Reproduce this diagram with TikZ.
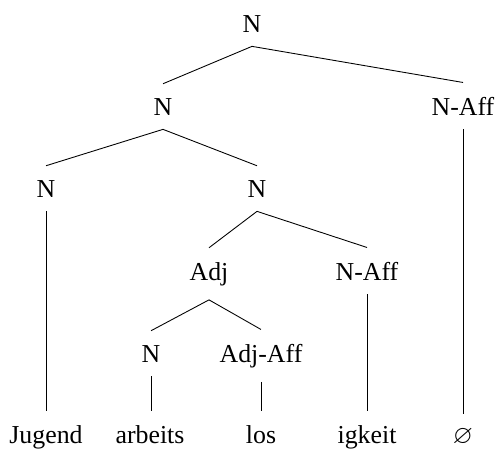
\documentclass[tikz,border=0pt]{standalone}
\usepackage{amssymb}
\usepackage{fontspec}
\setmainfont{Liberation Serif}
\tikzset{
	cat/.style={anchor=base,inner xsep=2pt,inner ysep=0.28cm,font=\fontsize{14.7}{17}\selectfont},
	branch/.style={thin,line width=0.5pt}
}
\begin{document}
\begin{tikzpicture}[x=0.02cm,y=-0.02cm]
	\useasboundingbox (0,0) rectangle (499,451); % Fixes the picture size...
		\node[cat] (Root)    at (252,32)  {N};
		\node[cat] (NLeft)   at (163,115) {N};
		\node[cat] (NAffTop) at (463,115) {N-Aff};
		\node[cat] (NJug)    at (46,197)  {N};
		\node[cat] (NMid)    at (257,197) {N};
		\node[cat] (Adj)     at (209,280) {Adj};
		\node[cat] (NAffMid) at (367,280) {N-Aff};
		\node[cat] (NArb)    at (151,362) {N};
		\node[cat] (AdjAff)  at (261,362) {Adj-Aff};
		% leaves
		\node[cat] (Jugend)  at (46,443)  {Jugend};
		\node[cat] (Arbeits) at (150,443) {arbeits};
		\node[cat] (Los)     at (261,443) {los};
		\node[cat] (Igkeit)  at (367,443) {igkeit};
		\node[cat] (Null)    at (463,443) {$\varnothing$};

		\foreach \From/\To in {Root/NLeft,Root/NAffTop,NLeft/NJug,NLeft/NMid,NMid/Adj,NMid/NAffMid,Adj/NArb,Adj/AdjAff}{\draw[branch] (\From.south) -- (\To.north);}
		\foreach \From/\To in {NAffTop/Null,NJug/Jugend,NAffMid/Igkeit,NArb/Arbeits,AdjAff/Los}{\draw[branch] (\From.south) -- (\From.south |- \To.north);}% vertical lines
	\end{tikzpicture}
\end{document}
